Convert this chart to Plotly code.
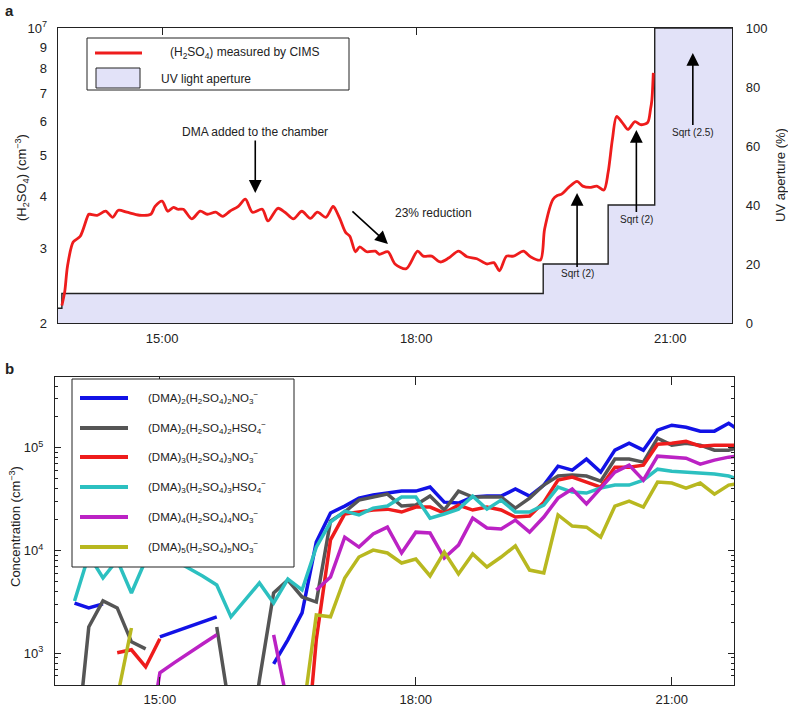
import math
import plotly.graph_objects as go

DAY = "2000-01-01 "

# ---- panel a: H2SO4 measured by CIMS (values in 1e6 cm-3) ----
cims_time = ["13:49", "13:51", "13:53", "13:57", "14:02", "14:08", "14:09", "14:14", "14:20", "14:25",
             "14:29", "14:35", "14:44", "14:52", "14:55", "15:00", "15:04", "15:08", "15:11", "15:15",
             "15:21", "15:27", "15:32", "15:38", "15:43", "15:48", "15:54", "15:59", "16:04", "16:11",
             "16:15", "16:22", "16:27", "16:33", "16:39", "16:45", "16:50", "16:56", "17:01", "17:02",
             "17:06", "17:10", "17:13", "17:17", "17:20", "17:25", "17:31", "17:34", "17:40", "17:45",
             "17:53", "18:01", "18:05", "18:11", "18:17", "18:23", "18:30", "18:36", "18:43", "18:50",
             "18:55", "18:59", "19:04", "19:09", "19:16", "19:21", "19:28", "19:31", "19:37", "19:40",
             "19:43", "19:48", "19:54", "19:58", "20:03", "20:08", "20:13", "20:16", "20:19", "20:22",
             "20:26", "20:30", "20:35", "20:39", "20:44", "20:46", "20:47", "20:48"]
cims_conc = [2.2, 2.37, 2.73, 3.11, 3.21, 3.62, 3.62, 3.60, 3.68, 3.56,
             3.70, 3.66, 3.60, 3.62, 3.78, 3.89, 3.68, 3.76, 3.72, 3.72,
             3.53, 3.68, 3.62, 3.66, 3.58, 3.68, 3.78, 3.93, 3.66, 3.72,
             3.49, 3.74, 3.66, 3.53, 3.68, 3.54, 3.66, 3.56, 3.78, 3.76,
             3.53, 3.28, 3.21, 2.95, 3.03, 2.95, 2.96, 2.91, 2.95, 2.76,
             2.69, 2.96, 2.88, 2.88, 2.79, 2.85, 2.96, 2.87, 2.84, 2.76,
             2.78, 2.66, 2.88, 2.88, 2.96, 2.87, 2.82, 3.34, 3.93, 4.01,
             4.04, 4.19, 4.33, 4.22, 4.19, 4.22, 4.13, 4.55, 5.44, 6.17,
             5.97, 5.75, 6.00, 5.90, 5.97, 6.41, 6.76, 7.83]

# UV light aperture (%)
uv_time = ["13:40", "13:49", "19:30", "20:16", "20:49", "21:50"]
uv_open = [5, 10, 20, 40, 100, 100]

# ---- panel b: cluster concentrations (cm-3), 10-min samples ----
cluster_time = ["14:00", "14:10", "14:20", "14:30", "14:40", "14:50",
                "15:00", "15:10", "15:20", "15:30", "15:40", "15:50",
                "16:00", "16:10", "16:20", "16:30", "16:40", "16:50",
                "17:00", "17:10", "17:20", "17:30", "17:40", "17:50",
                "18:00", "18:10", "18:20", "18:30", "18:40", "18:50",
                "19:00", "19:10", "19:20", "19:30", "19:40", "19:50",
                "20:00", "20:10", "20:20", "20:30", "20:40", "20:50",
                "21:00", "21:10", "21:20", "21:30", "21:40", "21:50"]

dma2_no3 = [3080, 2760, 3020, None, None, None,
            1440, 1610, 1800, 2010, 2260, None,
            None, None, 787, 1350, 2470, 12100,
            23200, 27100, 32400, 34700, 36300, 37900,
            37900, 41500, 29600, 29000, 33200, 33900,
            33900, 39700, 33900, 43400, 66300, 60700,
            77700, 58000, 95000, 111100, 95000, 148600,
            166300, 158900, 145500, 145500, 173800, 139000]

dma2_hso4 = [78, 1800, 3230, 2760, 1290, 1100,
             None, None, None, None, 1800, 235,
             58, 549, 3860, 5160, 3530, 3150,
             19400, 23700, 31000, 33200, 35400, 27100,
             27700, 33900, 24800, 37900, 33200, 33200,
             33200, 25900, 32400, 43400, 53100, 54300,
             53100, 47400, 77700, 77700, 72600, 124200,
             106200, 111100, 106200, 95000, 95000, 103900]

dma3_no3 = [None, None, None, 1010, 1080, 735,
            1380, None, None, None, None, None,
            None, None, None, None, 37, 1350,
            12700, 22700, 23700, 24800, 25300, 23700,
            26500, 26500, 23200, 27700, 24800, 26500,
            24800, 21200, 21700, 29600, 48500, 51900,
            46400, 41500, 64900, 64900, 67900, 108600,
            111100, 116100, 103900, 106200, 106200, 106200]

dma3_hso4 = [3230, 9040, 5400, 8080, 3860, 8080,
             8840, 8080, 6750, 5650, 4610, 2260,
             3300, 4830, 3080, 5280, 4130, 10800,
             18900, 24200, 22200, 25900, 27100, 33200,
             33200, 20700, 22700, 25300, 33900, 25300,
             31000, 23700, 23700, 27700, 41500, 37100,
             36300, 40600, 43400, 43400, 48500, 62000,
             59300, 58000, 56700, 55500, 53100, 47400]

dma4_no3 = [None, None, None, None, None, 92,
            643, 805, 985, 1230, 1510, None,
            None, None, 1510, 314, None, 4130,
            5520, 13500, 10800, 14500, 16900, 9460,
            15100, 14800, 8450, 11300, 20700, 16600,
            16200, 19800, 15100, 21200, 32400, 39700,
            28400, 40600, 58000, 67900, 48500, 83000,
            81200, 79400, 69400, 75900, 81200, 84900]

dma5_no3 = [None, None, None, 367, 1760, None,
            None, None, None, None, None, None,
            None, None, None, None, 220, 2360,
            2260, 5400, 8640, 10100, 9460, 7560,
            8260, 5650, 9670, 5910, 9250, 6910,
            8640, 11100, 6450, 6040, 22200, 17300,
            16900, 13500, 27100, 30300, 26500, 46400,
            45400, 40600, 45400, 35400, 43400, 45400]

series_names = [
    "(DMA)<sub>2</sub>(H<sub>2</sub>SO<sub>4</sub>)<sub>2</sub>NO<sub>3</sub><sup>−</sup>",
    "(DMA)<sub>2</sub>(H<sub>2</sub>SO<sub>4</sub>)<sub>2</sub>HSO<sub>4</sub><sup>−</sup>",
    "(DMA)<sub>3</sub>(H<sub>2</sub>SO<sub>4</sub>)<sub>3</sub>NO<sub>3</sub><sup>−</sup>",
    "(DMA)<sub>3</sub>(H<sub>2</sub>SO<sub>4</sub>)<sub>3</sub>HSO<sub>4</sub><sup>−</sup>",
    "(DMA)<sub>4</sub>(H<sub>2</sub>SO<sub>4</sub>)<sub>4</sub>NO<sub>3</sub><sup>−</sup>",
    "(DMA)<sub>5</sub>(H<sub>2</sub>SO<sub>4</sub>)<sub>5</sub>NO<sub>3</sub><sup>−</sup>",
]
series_values = [dma2_no3, dma2_hso4, dma3_no3, dma3_hso4, dma4_no3, dma5_no3]
series_colors = ["#1212e6", "#555555", "#ee1c1c", "#2cc0c0", "#bb22c4", "#b8b820"]

W, H = 788, 706
FONT = "Liberation Sans, Arial, Helvetica, sans-serif"
INK = "#222222"
UV_FILL = "#e2e2f8"
RED = "#ee1c1c"


def px(x):
    return x / W


def py(y):
    return 1 - y / H


def t(hhmm):
    return DAY + hhmm


x_range = [t("13:46:15"), t("21:43:45")]
x_ticks = [t("15:00"), t("18:00"), t("21:00")]
x_ticktext = ["15:00", "18:00", "21:00"]

fig = go.Figure()

# UV aperture steps (primary y axis, drawn first so the red line sits on top)
fig.add_trace(go.Scatter(
    x=[t(s) for s in uv_time], y=uv_open, mode="lines", line_shape="hv",
    line=dict(color=INK, width=1.4), fill="tozeroy", fillcolor=UV_FILL,
    xaxis="x", yaxis="y", hoverinfo="skip"
))

# H2SO4 from CIMS
fig.add_trace(go.Scatter(
    x=[t(s) for s in cims_time], y=[v * 1e6 for v in cims_conc], mode="lines",
    line=dict(color=RED, width=2.8, shape="spline", smoothing=0.8),
    xaxis="x", yaxis="y2"
))

# cluster time series
for name, vals, col in zip(series_names, series_values, series_colors):
    fig.add_trace(go.Scatter(
        x=[t(s) for s in cluster_time], y=vals, mode="lines", name=name,
        line=dict(color=col, width=3.5), connectgaps=False,
        xaxis="x2", yaxis="y3"
    ))

axis_common = dict(showgrid=False, zeroline=False, linecolor=INK, linewidth=1.2,
                   automargin=False, tickcolor=INK,
                   tickfont=dict(family=FONT, size=13, color=INK))

minor_vals = [500, 600, 700, 800, 900,
              2000, 3000, 4000, 5000, 6000, 7000, 8000, 9000,
              20000, 30000, 40000, 50000, 60000, 70000, 80000, 90000,
              200000, 300000, 400000]

fig.update_layout(
    width=W, height=H, margin=dict(l=0, r=0, t=0, b=0, autoexpand=False),
    paper_bgcolor="white", plot_bgcolor="white", showlegend=False,
    font=dict(family=FONT, size=13, color=INK),
    xaxis=dict(domain=[px(58), px(732)], anchor="y", type="date", range=x_range,
               tickvals=x_ticks, ticktext=x_ticktext, ticks="inside", ticklen=7,
               mirror="ticks", showline=True, layer="below traces",
               ticklabelstandoff=3, **axis_common),
    yaxis=dict(domain=[py(323), py(28)], anchor="x", side="right", range=[0, 100],
               tickvals=[0, 20, 40, 60, 80, 100], ticks="", showline=True, mirror=True,
               layer="below traces", ticklabelstandoff=10, **axis_common),
    yaxis2=dict(overlaying="y", anchor="x", side="left", type="log",
                range=[math.log10(2e6), 7],
                tickvals=[2e6, 3e6, 4e6, 5e6, 6e6, 7e6, 8e6, 9e6, 1e7],
                ticktext=["2", "3", "4", "5", "6", "7", "8", "9", "10<sup>7</sup>"],
                ticks="", showline=False, ticklabelstandoff=10, **axis_common),
    xaxis2=dict(domain=[px(55), px(734)], anchor="y3", type="date", range=x_range,
                tickvals=x_ticks, ticktext=x_ticktext, ticks="inside", ticklen=8,
                mirror="ticks", showline=True, ticklabelstandoff=2, **axis_common),
    yaxis3=dict(domain=[py(685), py(377)], anchor="x2", type="log",
                range=[math.log10(490), math.log10(4.9e5)],
                tickvals=[1e3, 1e4, 1e5],
                ticktext=["10<sup>3</sup>", "10<sup>4</sup>", "10<sup>5</sup>"],
                ticks="inside", ticklen=6, mirror="ticks", showline=True,
                minor=dict(tickmode="array", tickvals=minor_vals, ticks="inside",
                           ticklen=3, tickcolor=INK),
                ticklabelstandoff=8, **axis_common),
)

shapes = []
ann = []


def note(x, y, text, size, **kw):
    d = dict(xref="paper", yref="paper", x=px(x), y=py(y), text=text, showarrow=False,
             xanchor="center", yanchor="middle", font=dict(size=size))
    d.update(kw)
    ann.append(d)


# legend of panel a
shapes.append(dict(type="rect", xref="paper", yref="paper", x0=px(87), x1=px(349),
                   y0=py(90), y1=py(38), line=dict(color=INK, width=1), fillcolor="white"))
shapes.append(dict(type="line", xref="paper", yref="paper", x0=px(95), x1=px(142),
                   y0=py(53), y1=py(53), line=dict(color=RED, width=3)))
shapes.append(dict(type="rect", xref="paper", yref="paper", x0=px(96), x1=px(140),
                   y0=py(88), y1=py(68), line=dict(color=INK, width=1), fillcolor=UV_FILL))
note(244, 53, "(H<sub>2</sub>SO<sub>4</sub>) measured by CIMS", 12)
note(159, 79, "UV light aperture", 12, xanchor="left")

# legend of panel b
shapes.append(dict(type="rect", xref="paper", yref="paper", x0=px(72), x1=px(294),
                   y0=py(567), y1=py(379), line=dict(color=INK, width=1), fillcolor="white"))
leg_rows = [398, 428, 457, 487, 517, 547]
for row, name, col in zip(leg_rows, series_names, series_colors):
    shapes.append(dict(type="line", xref="paper", yref="paper", x0=px(80), x1=px(128),
                       y0=py(row), y1=py(row), line=dict(color=col, width=4)))
    note(146, row, name, 11.5, xanchor="left")

# axis titles and panel letters
note(22, 178, "(H<sub>2</sub>SO<sub>4</sub>) (cm<sup>−3</sup>)", 13, textangle=-90)
note(780, 175, "UV aperture (%)", 13, textangle=-90)
note(15, 527, "Concentration (cm<sup>−3</sup>)", 13, textangle=-90)
note(9, 11, "<b>a</b>", 15)
note(9, 369, "<b>b</b>", 15)

# arrows and notes in panel a (positioned on the UV % axis)
arrow = dict(showarrow=True, arrowhead=2, arrowsize=1.6, arrowwidth=1.6,
             arrowcolor="black", xref="x", yref="y")
ann.append(dict(x=t("16:06"), y=44.1, ax=0, ay=-61, text="DMA added to the chamber",
                font=dict(size=12), **arrow))
ann.append(dict(x=t("17:40"), y=26.8, ax=-37, ay=-34, text="", **arrow))
ann.append(dict(xref="x", yref="y", x=t("18:12"), y=37.3, showarrow=False,
                text="23% reduction", font=dict(size=12)))
ann.append(dict(x=t("19:54"), y=44.1, ax=0, ay=81, text="Sqrt (2)",
                font=dict(size=10), **arrow))
ann.append(dict(x=t("20:36"), y=65.4, ax=0, ay=89, text="Sqrt (2)",
                font=dict(size=10), **arrow))
ann.append(dict(x=t("21:16"), y=91.5, ax=0, ay=79, text="Sqrt (2.5)",
                font=dict(size=10), **arrow))

fig.update_layout(shapes=shapes, annotations=ann)

# drop the page's default 8px body margin so the figure sits at the window origin
fig.write_html("out.html", config={"displayModeBar": False},
               post_script="document.body.style.margin='0';")
